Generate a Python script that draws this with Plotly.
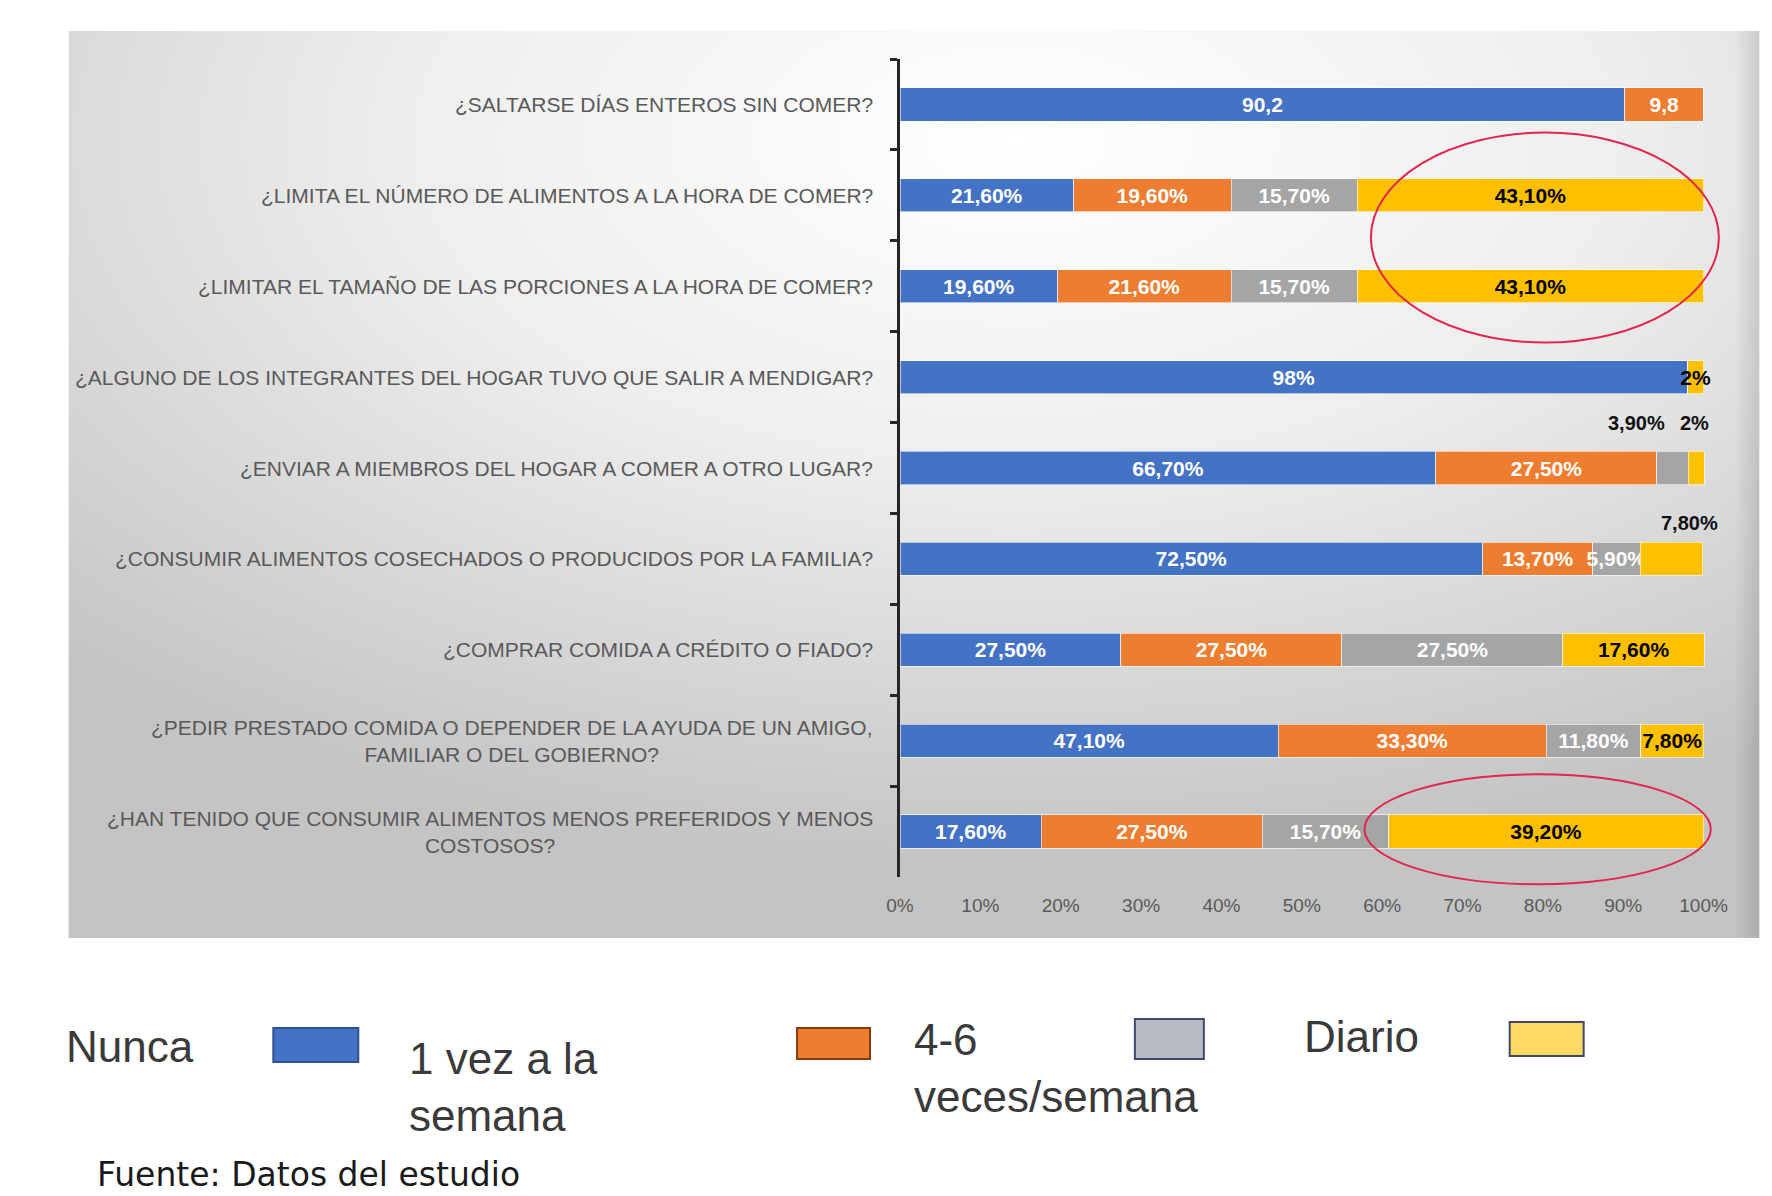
import base64
import plotly.graph_objects as go

# ---------------- data ----------------
categories = [
    "¿SALTARSE DÍAS ENTEROS SIN COMER?",
    "¿LIMITA EL NÚMERO DE ALIMENTOS A LA HORA DE COMER?",
    "¿LIMITAR EL TAMAÑO DE LAS PORCIONES A LA HORA DE COMER?",
    "¿ALGUNO DE LOS INTEGRANTES DEL HOGAR TUVO QUE SALIR A MENDIGAR?",
    "¿ENVIAR A MIEMBROS DEL HOGAR A COMER A OTRO LUGAR?",
    "¿CONSUMIR ALIMENTOS COSECHADOS O PRODUCIDOS POR LA FAMILIA?",
    "¿COMPRAR COMIDA A CRÉDITO O FIADO?",
    "¿PEDIR PRESTADO COMIDA O DEPENDER DE LA AYUDA DE UN AMIGO,<br>FAMILIAR O DEL GOBIERNO?",
    "¿HAN TENIDO QUE CONSUMIR ALIMENTOS MENOS PREFERIDOS Y MENOS<br>COSTOSOS?",
]
series_names = ["Nunca", "1 vez a la semana", "4-6 veces/semana", "Diario"]
nunca = [90.2, 21.6, 19.6, 98.0, 66.7, 72.5, 27.5, 47.1, 17.6]
una_vez = [9.8, 19.6, 21.6, 0.0, 27.5, 13.7, 27.5, 33.3, 27.5]
cuatro_seis = [0.0, 15.7, 15.7, 0.0, 3.9, 5.9, 27.5, 11.8, 15.7]
diario = [0.0, 43.1, 43.1, 2.0, 2.0, 7.8, 17.6, 7.8, 39.2]

nunca_lbl = ["90,2", "21,60%", "19,60%", "98%", "66,70%", "72,50%", "27,50%", "47,10%", "17,60%"]
una_vez_lbl = ["9,8", "19,60%", "21,60%", "", "27,50%", "13,70%", "27,50%", "33,30%", "27,50%"]
cuatro_seis_lbl = ["", "15,70%", "15,70%", "", "", "5,90%", "27,50%", "11,80%", "15,70%"]
diario_lbl = ["", "43,10%", "43,10%", "2%", "", "", "17,60%", "7,80%", "39,20%"]

# labels drawn above the bar: (row, series index, text)
above_labels = [(4, 2, "3,90%"), (4, 3, "2%"), (5, 3, "7,80%")]

x_ticks = [0, 10, 20, 30, 40, 50, 60, 70, 80, 90, 100]
x_ticktext = [f"{t}%" for t in x_ticks]

# highlight ellipses in data units: (x0, x1, row0, row1)
highlights = [(58.6, 101.9, 0.31, 2.62), (57.8, 100.9, 7.37, 8.58)]

# ---------------- styles ----------------
W, H = 1772, 1196
X_MAX = 100.3
ML, MT, MB = 900, 59, 319
PW = 804 * X_MAX / 100
MR = W - ML - PW
PH = H - MT - MB
Y_RANGE = [8.5, -0.5]


def px(x):
    return (x - ML) / PW


def py(y):
    return 1 - (y - MT) / PH


def data_to_paper_x(v):
    return v / X_MAX


def data_to_paper_y(idx):
    return (Y_RANGE[0] - idx) / (Y_RANGE[0] - Y_RANGE[1])


bar_colors = ["#4472C4", "#ED7D31", "#A5A5A5", "#FFC000"]
text_colors = ["#FFFFFF", "#FFFFFF", "#FFFFFF", "#000000"]
swatch_fill = ["#4472C4", "#ED7D31", "#B7BBC6", "#FFD966"]
swatch_line = ["#2F528F", "#843C0C", "#3F4A66", "#3F4A66"]
label_font = "Liberation Sans, Arial, sans-serif"

all_vals = [nunca, una_vez, cuatro_seis, diario]
all_lbls = [nunca_lbl, una_vez_lbl, cuatro_seis_lbl, diario_lbl]

fig = go.Figure()
for name, vals, lbls, col, tcol in zip(series_names, all_vals, all_lbls, bar_colors, text_colors):
    fig.add_trace(go.Bar(
        y=categories, x=vals, orientation="h", name=name,
        marker=dict(color=col, line=dict(color="rgba(255,255,255,0.6)", width=1)),
        text=lbls, textposition="inside", insidetextanchor="middle", textangle=0,
        constraintext="none", cliponaxis=False,
        insidetextfont=dict(family=label_font, size=21, color=tcol, weight="bold"),
        showlegend=False, hoverinfo="skip",
    ))

annotations = []
# category labels (centred multi-line, right aligned to the axis)
for cat in categories:
    annotations.append(dict(
        x=px(875), xref="paper", y=cat, yref="y", xanchor="right", yanchor="middle",
        text=cat, showarrow=False, align="center",
        font=dict(family=label_font, size=21, color="#595959"),
    ))

# labels above the bars
shifts = {(4, 2): (-36, 45), (4, 3): (-2, 45), (5, 3): (18, 36)}
for row, si, txt in above_labels:
    start = sum(all_vals[k][row] for k in range(si))
    xc = start + all_vals[si][row] / 2
    dx, dy = shifts[(row, si)]
    annotations.append(dict(
        x=xc, y=categories[row], xref="x", yref="y", text=txt, showarrow=False,
        xshift=dx, yshift=dy,
        font=dict(family=label_font, size=20, color="#111111", weight="bold"),
    ))

# custom legend (text followed by swatch)
legend_font = dict(family=label_font, size=44, color="#3A3A3A")
legend_text = [
    ("Nunca", 64, 1046),
    ("1 vez a la<br>semana", 407, 1087),
    ("4-6<br>veces/semana", 912, 1068),
    ("Diario", 1302, 1036),
]
for txt, lx, ly in legend_text:
    annotations.append(dict(
        x=px(lx), y=py(ly), xref="paper", yref="paper", xanchor="left", yanchor="middle",
        text=txt, showarrow=False, align="left", font=legend_font,
    ))
swatch_boxes = [(273, 1028, 358, 1062), (797, 1028, 870, 1059), (1135, 1019, 1204, 1059), (1510, 1022, 1584, 1056)]
shapes = []
for (x0, y0, x1, y1), fc, lc in zip(swatch_boxes, swatch_fill, swatch_line):
    shapes.append(dict(type="rect", xref="paper", yref="paper",
                       x0=px(x0), x1=px(x1), y0=py(y0), y1=py(y1),
                       fillcolor=fc, line=dict(color=lc, width=2)))

# source note
annotations.append(dict(
    x=px(95), y=py(1174), xref="paper", yref="paper", xanchor="left", yanchor="middle",
    text="Fuente: Datos del estudio", showarrow=False,
    font=dict(family="DejaVu Sans, sans-serif", size=33, color="#1A1A1A"),
))

# red highlight ellipses (converted from data units so they are not clipped)
for x0, x1, r0, r1 in highlights:
    shapes.append(dict(type="circle", xref="paper", yref="paper",
                       x0=data_to_paper_x(x0), x1=data_to_paper_x(x1),
                       y0=data_to_paper_y(r0), y1=data_to_paper_y(r1),
                       line=dict(color="#E3264B", width=2), layer="above"))

# gradient panel background (svg data uri)
svg = (
    '<svg xmlns="http://www.w3.org/2000/svg" width="1692" height="907" '
    'viewBox="0 0 1692 907" preserveAspectRatio="none">'
    '<defs><radialGradient id="g" cx="0.56" cy="0.12" r="0.8" fx="0.56" fy="0.12">'
    '<stop offset="0" stop-color="#ffffff"/>'
    '<stop offset="0.45" stop-color="#eeeeee"/>'
    '<stop offset="1" stop-color="#c4c4c4"/>'
    '</radialGradient>'
    '<linearGradient id="s" x1="0" x2="1" y1="0" y2="0">'
    '<stop offset="0.985" stop-color="#000" stop-opacity="0"/>'
    '<stop offset="1" stop-color="#000" stop-opacity="0.12"/>'
    '</linearGradient></defs>'
    '<rect width="1692" height="907" fill="url(#g)"/>'
    '<rect width="1692" height="907" fill="url(#s)"/></svg>'
)
svg_uri = "data:image/svg+xml;base64," + base64.b64encode(svg.encode()).decode()

fig.update_layout(
    width=W, height=H,
    margin=dict(l=ML, r=MR, t=MT, b=MB),
    barmode="stack", bargap=0.635,
    paper_bgcolor="#FFFFFF", plot_bgcolor="rgba(0,0,0,0)",
    uniformtext=dict(mode="show", minsize=21),
    annotations=annotations, shapes=shapes,
    images=[dict(source=svg_uri, xref="paper", yref="paper",
                 x=px(68), y=py(31), sizex=(1760 - 68) / PW, sizey=(938 - 31) / PH,
                 xanchor="left", yanchor="top", sizing="stretch", layer="below")],
    xaxis=dict(range=[0, X_MAX], tickvals=x_ticks, ticktext=x_ticktext,
               showgrid=False, zeroline=False, showline=False, ticks="",
               tickfont=dict(family=label_font, size=19, color="#595959"),
               ticklabelstandoff=15, fixedrange=True),
    yaxis=dict(type="category", categoryorder="array", categoryarray=categories,
               range=Y_RANGE, showticklabels=False, showgrid=False, zeroline=False,
               showline=True, linecolor="#262626", linewidth=3,
               ticks="outside", tickson="boundaries", ticklen=7, tickwidth=3,
               tickcolor="#262626", fixedrange=True),
)

fig.write_html("out.html", config={"displayModeBar": False})
